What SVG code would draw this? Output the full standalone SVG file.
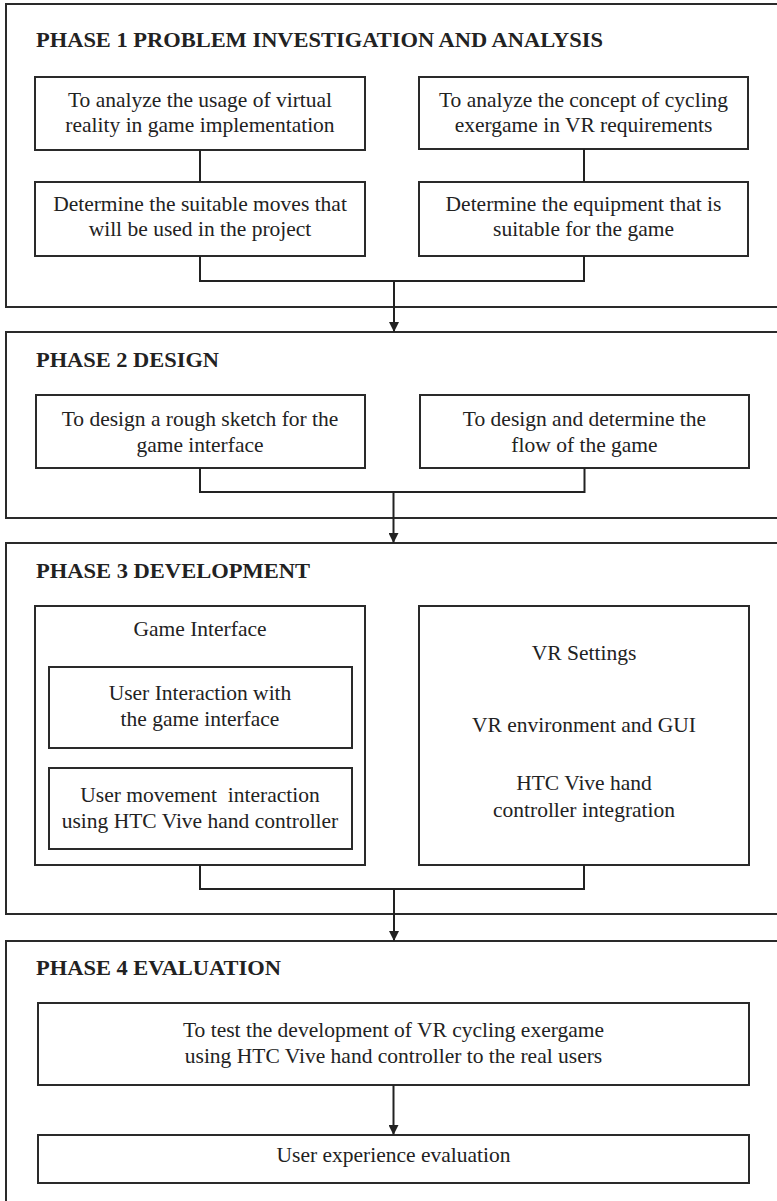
<svg xmlns="http://www.w3.org/2000/svg" width="777" height="1201" viewBox="0 0 777 1201">
<style>
.ph{fill:none;stroke:#2a2a2a;stroke-width:2}
.bx{fill:none;stroke:#2a2a2a;stroke-width:2}
.t{font-family:"Liberation Serif","Times New Roman",serif;font-size:21.5px;fill:#222;text-anchor:middle;white-space:pre}
.h{font-family:"Liberation Serif","Times New Roman",serif;font-size:20px;font-weight:bold;fill:#222}
.c{fill:none;stroke:#222;stroke-width:2}
</style>
<defs>
<marker id="ah" markerWidth="10" markerHeight="10" refX="10" refY="5" orient="auto" markerUnits="userSpaceOnUse">
<path d="M0,0 L10,5 L0,10 Z" fill="#222"/>
</marker>
</defs>
<rect width="777" height="1201" fill="#fff"/>

<g id="phase1">
<rect class="ph" x="6" y="4" width="780" height="303"/>
<text class="h" x="36" y="47" textLength="567" lengthAdjust="spacingAndGlyphs">PHASE 1 PROBLEM INVESTIGATION AND ANALYSIS</text>
</g>
<g id="a1"><rect class="bx" x="35" y="77" width="330" height="73"/><text class="t" x="200" y="107">To analyze the usage of virtual</text><text class="t" x="200" y="132">reality in game implementation</text></g>
<g id="a2"><rect class="bx" x="35" y="182" width="330" height="74"/><text class="t" x="200" y="211">Determine the suitable moves that</text><text class="t" x="200" y="236">will be used in the project</text></g>
<g id="b1"><rect class="bx" x="419" y="77" width="329" height="72"/><text class="t" x="583.5" y="107">To analyze the concept of cycling</text><text class="t" x="583.5" y="132">exergame in VR requirements</text></g>
<g id="b2"><rect class="bx" x="419" y="182" width="329" height="74"/><text class="t" x="583.5" y="211">Determine the equipment that is</text><text class="t" x="583.5" y="236">suitable for the game</text></g>

<g id="phase2">
<rect class="ph" x="6" y="332" width="780" height="186"/>
<text class="h" x="36" y="367" textLength="183" lengthAdjust="spacingAndGlyphs">PHASE 2 DESIGN</text>
</g>
<g id="d1"><rect class="bx" x="36" y="395" width="329" height="73"/><text class="t" x="200" y="426">To design a rough sketch for the</text><text class="t" x="200" y="452">game interface</text></g>
<g id="d2"><rect class="bx" x="420" y="395" width="329" height="73"/><text class="t" x="584.5" y="426">To design and determine the</text><text class="t" x="584.5" y="452">flow of the game</text></g>

<g id="phase3">
<rect class="ph" x="6" y="543" width="780" height="371"/>
<text class="h" x="36" y="578" textLength="274" lengthAdjust="spacingAndGlyphs">PHASE 3 DEVELOPMENT</text>
</g>
<g id="gi"><rect class="bx" x="35" y="606" width="330" height="259"/><text class="t" x="200" y="636">Game Interface</text></g>
<g id="e1"><rect class="bx" x="49" y="667" width="303" height="81"/><text class="t" x="200" y="700">User Interaction with</text><text class="t" x="200" y="726">the game interface</text></g>
<g id="e2"><rect class="bx" x="49" y="768" width="303" height="81"/><text class="t" x="200" y="802">User movement  interaction</text><text class="t" x="200" y="828">using HTC Vive hand controller</text></g>
<g id="vr"><rect class="bx" x="419" y="606" width="330" height="259"/><text class="t" x="584" y="660">VR Settings</text><text class="t" x="584" y="732">VR environment and GUI</text><text class="t" x="584" y="790">HTC Vive hand</text><text class="t" x="584" y="817">controller integration</text></g>

<g id="phase4">
<rect class="ph" x="6" y="941" width="780" height="280"/>
<text class="h" x="36" y="975" textLength="245" lengthAdjust="spacingAndGlyphs">PHASE 4 EVALUATION</text>
</g>
<g id="f1"><rect class="bx" x="38" y="1003" width="711" height="82"/><text class="t" x="393.5" y="1037">To test the development of VR cycling exergame</text><text class="t" x="393.5" y="1063">using HTC Vive hand controller to the real users</text></g>
<g id="f2"><rect class="bx" x="38" y="1135" width="711" height="48"/><text class="t" x="393.5" y="1162">User experience evaluation</text></g>

<g id="connectors">
<path class="c" d="M200,150 V182"/>
<path class="c" d="M584,149 V182"/>
<path class="c" d="M200,256 V281 H584 V256"/>
<path class="c" d="M394,281 V332" marker-end="url(#ah)"/>
<path class="c" d="M200,468 V492 H584.5 V468"/>
<path class="c" d="M393.5,492 V543" marker-end="url(#ah)"/>
<path class="c" d="M200,865 V889 H584 V865"/>
<path class="c" d="M394,889 V941" marker-end="url(#ah)"/>
<path class="c" d="M393.5,1085 V1135" marker-end="url(#ah)"/>
</g>
</svg>
